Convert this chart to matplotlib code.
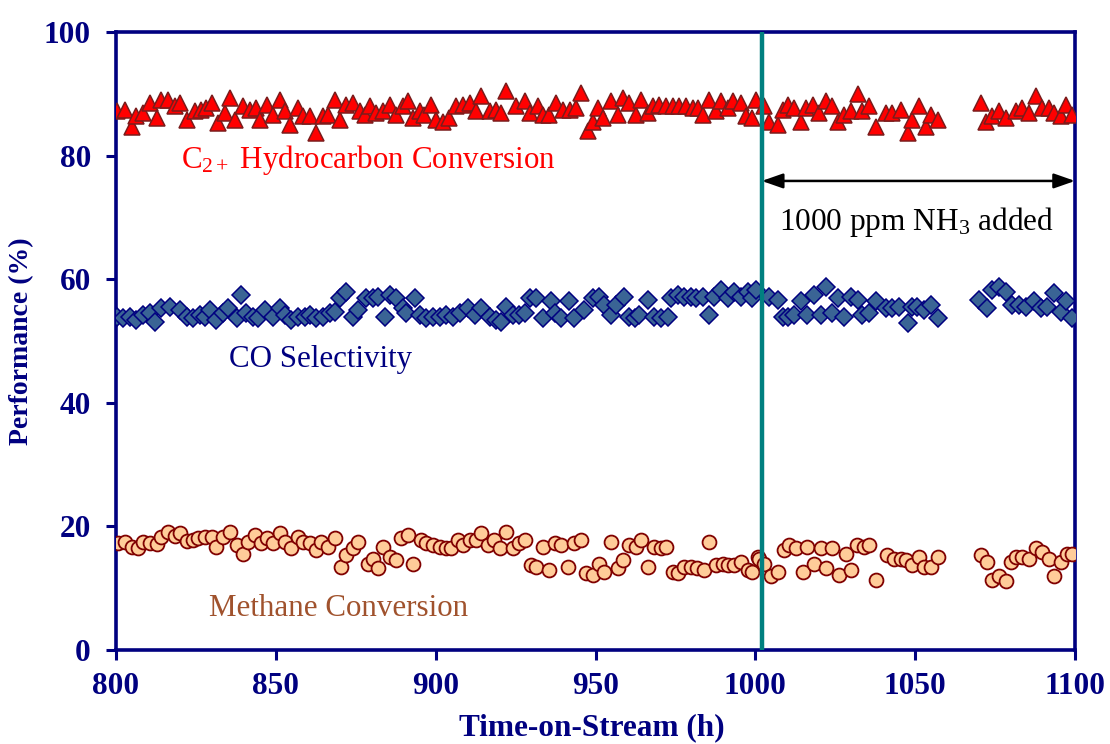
import matplotlib
matplotlib.use("Agg")
import matplotlib.pyplot as plt

# time-on-stream (h) and performance (%) for each series
c2_time = [800.2, 802.8, 804.9, 806.4, 808.5, 810.6, 812.7, 814.2, 816.3, 818.4,
           820.0, 822.1, 824.7, 826.7, 828.3, 829.9, 832.0, 834.0, 835.6, 837.2,
           839.8, 841.9, 843.9, 845.0, 847.1, 849.1, 851.2, 852.8, 854.4, 857.0,
           858.5, 860.6, 862.7, 864.8, 866.3, 868.4, 870.0, 872.1, 874.1, 876.2,
           877.8, 879.4, 881.4, 883.5, 885.6, 887.7, 889.8, 891.3, 892.9, 895.0,
           896.5, 898.6, 900.2, 902.3, 904.3, 906.4, 908.5, 910.6, 912.7, 914.2,
           916.9, 918.9, 920.5, 922.1, 925.2, 927.8, 929.4, 931.9, 933.5, 935.6,
           937.7, 939.8, 941.9, 943.9, 945.5, 947.6, 949.1, 950.7, 952.3, 954.9,
           957.0, 958.5, 960.6, 962.7, 964.2, 966.3, 967.9, 970.0, 972.1, 974.1,
           976.2, 978.3, 980.4, 982.0, 983.5, 985.6, 987.7, 989.2, 991.3, 992.9,
           995.5, 997.1, 999.1, 1000.2, 1002.8, 1004.3, 1007.0, 1008.5, 1010.1, 1012.2,
           1014.2, 1015.8, 1017.9, 1020.0, 1022.1, 1024.1, 1025.7, 1027.8, 1029.9, 1032.0,
           1033.5, 1035.6, 1037.7, 1040.8, 1042.9, 1045.5, 1047.6, 1049.1, 1051.2, 1053.3,
           1054.9, 1057.0, 1070.5, 1072.1, 1074.1, 1076.2, 1078.3, 1081.4, 1083.5, 1085.6,
           1087.7, 1089.8, 1091.9, 1093.4, 1095.5, 1097.1, 1099.1]
c2_conv = [87.2, 87.4, 84.7, 86.4, 86.9, 88.5, 86.1, 89.0, 89.0, 88.0,
           88.5, 85.8, 87.2, 87.4, 87.7, 88.5, 85.3, 86.9, 89.3, 85.8,
           88.0, 87.4, 87.7, 85.8, 88.2, 86.6, 89.0, 87.2, 85.0, 87.7,
           86.4, 86.4, 83.7, 86.4, 86.6, 89.0, 85.8, 88.2, 88.5, 87.2,
           86.6, 88.0, 86.9, 87.2, 88.2, 86.6, 88.0, 88.8, 86.1, 87.2,
           86.6, 88.2, 85.8, 85.5, 86.1, 88.0, 88.2, 88.5, 87.2, 89.6,
           87.2, 87.4, 86.9, 90.4, 88.0, 88.8, 86.9, 88.0, 86.6, 86.6,
           88.5, 87.4, 87.4, 87.7, 90.1, 83.9, 85.5, 87.7, 86.1, 88.8,
           86.6, 89.3, 88.5, 86.6, 89.0, 86.9, 88.0, 88.2, 88.0, 88.0,
           88.0, 88.0, 87.7, 87.7, 86.6, 89.0, 87.2, 88.8, 87.7, 88.8,
           88.5, 86.4, 86.1, 89.0, 88.0, 85.5, 85.0, 87.4, 88.2, 87.7,
           85.5, 87.7, 88.2, 86.9, 88.8, 88.0, 85.5, 86.6, 87.2, 89.9,
           87.2, 88.0, 84.7, 86.9, 86.9, 87.4, 83.7, 85.8, 88.0, 84.7,
           86.6, 85.8, 88.5, 85.5, 86.4, 87.2, 86.1, 87.2, 87.7, 86.9,
           89.6, 87.7, 87.7, 86.9, 86.4, 88.2, 86.6]

co_time = [800.2, 802.3, 804.3, 806.4, 808.5, 810.6, 812.2, 814.2, 816.9, 820.0,
           822.1, 824.1, 826.2, 827.8, 829.4, 831.4, 833.5, 835.1, 837.7, 839.2,
           840.8, 842.9, 844.5, 846.5, 849.1, 851.2, 852.8, 854.9, 857.0, 859.0,
           860.6, 862.7, 864.8, 866.9, 868.4, 870.0, 872.1, 874.1, 875.7, 878.3,
           880.4, 882.0, 884.0, 885.6, 887.7, 889.8, 890.8, 893.4, 895.0, 897.1,
           899.1, 901.2, 903.3, 905.4, 907.5, 910.1, 912.2, 914.2, 916.9, 918.9,
           920.5, 922.1, 924.1, 926.2, 927.8, 929.4, 931.4, 933.5, 936.1, 937.2,
           939.2, 941.8, 943.4, 946.5, 949.1, 951.2, 952.8, 954.9, 956.4, 959.0,
           960.6, 962.2, 963.7, 966.3, 968.4, 970.5, 972.6, 973.6, 975.7, 977.8,
           979.9, 981.4, 983.5, 985.6, 987.2, 989.2, 991.3, 993.4, 995.5, 997.6,
           999.1, 1000.2, 1004.3, 1007.0, 1008.5, 1010.1, 1012.2, 1014.2, 1016.3, 1018.4,
           1020.5, 1022.1, 1024.1, 1025.7, 1027.8, 1029.9, 1032.0, 1033.5, 1035.6, 1037.7,
           1040.8, 1042.9, 1045.0, 1047.6, 1049.1, 1050.7, 1052.8, 1054.9, 1057.0, 1070.0,
           1072.6, 1074.1, 1076.2, 1078.3, 1080.4, 1082.5, 1084.6, 1087.2, 1089.2, 1091.3,
           1093.4, 1095.5, 1097.1, 1099.1]
co_sel = [53.9, 53.7, 53.9, 53.4, 54.2, 54.5, 53.1, 55.3, 55.5, 55.0,
          53.9, 53.7, 54.2, 53.9, 55.0, 53.4, 54.5, 55.3, 53.7, 57.4,
          54.5, 53.9, 53.7, 55.0, 53.9, 55.3, 54.2, 53.4, 53.9, 53.9,
          54.2, 53.7, 53.9, 54.5, 54.7, 56.9, 58.0, 53.9, 55.0, 56.9,
          56.9, 57.2, 53.9, 57.4, 56.9, 55.3, 54.5, 56.9, 54.2, 53.7,
          53.9, 53.9, 54.2, 53.9, 54.5, 55.3, 54.2, 55.3, 53.9, 53.4,
          53.1, 55.5, 54.2, 54.2, 54.5, 56.9, 56.9, 53.7, 56.4, 54.5,
          53.7, 56.4, 53.7, 55.0, 56.9, 57.2, 55.8, 54.2, 55.8, 57.2,
          53.9, 53.7, 54.2, 56.6, 53.9, 53.7, 53.9, 56.9, 57.4, 57.2,
          57.2, 56.9, 57.2, 54.2, 57.2, 58.3, 56.9, 58.0, 57.2, 58.0,
          56.9, 58.3, 57.2, 56.6, 53.9, 53.9, 54.2, 56.4, 54.2, 57.4,
          54.2, 58.8, 54.5, 56.9, 53.9, 57.2, 56.6, 54.2, 54.5, 56.4,
          55.3, 55.3, 55.5, 52.9, 55.5, 55.5, 55.0, 55.8, 53.7, 56.6,
          55.3, 58.3, 58.8, 58.0, 55.8, 55.8, 55.5, 56.4, 55.3, 55.5,
          57.7, 54.7, 56.4, 53.7]

ch4_time = [800.7, 802.8, 804.9, 807.0, 808.5, 810.6, 812.7, 814.2, 816.3, 818.4,
            820.0, 822.1, 824.1, 825.7, 827.8, 829.9, 831.4, 833.5, 835.6, 837.7,
            839.8, 841.3, 843.4, 845.5, 847.1, 849.1, 851.2, 852.8, 854.9, 857.0,
            858.5, 860.6, 862.7, 864.2, 866.3, 868.4, 870.5, 872.1, 874.1, 875.7,
            878.8, 880.4, 882.0, 883.5, 885.6, 887.7, 889.2, 891.3, 892.9, 895.5,
            897.1, 899.1, 901.2, 903.3, 904.9, 906.9, 908.5, 910.6, 912.7, 914.2,
            916.3, 918.4, 920.0, 922.1, 924.1, 926.2, 927.8, 929.9, 931.4, 933.5,
            935.6, 937.2, 939.2, 941.3, 943.4, 945.5, 947.1, 949.1, 951.2, 952.8,
            954.9, 957.0, 958.5, 960.6, 962.7, 964.2, 966.3, 968.4, 970.5, 972.1,
            974.1, 975.7, 977.8, 979.9, 981.9, 984.0, 985.6, 987.7, 989.8, 991.3,
            993.4, 995.5, 997.6, 999.1, 1000.7, 1001.2, 1002.8, 1004.9, 1007.0, 1009.0,
            1010.6, 1012.7, 1014.8, 1016.3, 1018.4, 1020.5, 1022.1, 1024.1, 1026.2, 1028.3,
            1029.9, 1031.9, 1034.0, 1035.6, 1037.7, 1041.3, 1043.4, 1045.5, 1047.1, 1049.1,
            1051.2, 1052.8, 1054.9, 1057.0, 1070.5, 1072.6, 1074.1, 1076.2, 1078.3, 1079.9,
            1081.4, 1083.5, 1085.6, 1087.7, 1089.8, 1091.9, 1093.4, 1095.5, 1097.6, 1099.1]
ch4_conv = [17.3, 17.5, 16.7, 16.5, 17.5, 17.3, 17.2, 18.3, 19.1, 18.4,
            18.9, 17.7, 17.8, 18.1, 18.3, 18.3, 16.7, 18.3, 19.1, 17.0,
            15.6, 17.5, 18.6, 17.3, 18.1, 17.3, 18.9, 17.5, 16.5, 18.3,
            17.5, 17.3, 16.2, 17.5, 16.7, 18.1, 13.5, 15.4, 16.5, 17.5,
            14.0, 14.8, 13.2, 16.7, 15.1, 14.6, 18.1, 18.6, 14.0, 17.8,
            17.3, 17.0, 16.7, 16.5, 16.5, 17.8, 17.0, 17.8, 17.8, 18.9,
            17.0, 17.8, 16.5, 19.1, 16.5, 17.3, 17.8, 13.8, 13.5, 16.7,
            12.9, 17.3, 17.0, 13.5, 17.3, 17.8, 12.4, 12.1, 14.0, 12.7,
            17.5, 13.2, 14.6, 17.0, 16.7, 17.8, 13.5, 16.7, 16.5, 16.7,
            12.7, 12.4, 13.5, 13.5, 13.2, 12.9, 17.5, 13.8, 14.0, 13.8,
            13.8, 14.3, 12.9, 12.7, 15.1, 14.8, 14.0, 11.9, 12.7, 16.2,
            17.0, 16.5, 12.7, 16.7, 14.0, 16.5, 13.2, 16.5, 12.1, 15.6,
            12.9, 17.0, 16.7, 17.0, 11.3, 15.4, 14.8, 14.8, 14.6, 13.8,
            15.1, 13.5, 13.5, 15.1, 15.4, 14.3, 11.3, 11.9, 11.1, 14.3,
            15.1, 15.1, 14.8, 16.5, 15.9, 14.8, 11.9, 14.3, 15.6, 15.6]

nh3_start = 1002
x_ticks = [800, 850, 900, 950, 1000, 1050, 1100]
y_ticks = [0, 20, 40, 60, 80, 100]

navy = "#000080"
serif = "Liberation Serif"
plt.rcParams["font.family"] = serif
plt.rcParams["mathtext.fontset"] = "custom"
plt.rcParams["mathtext.rm"] = serif
plt.rcParams["mathtext.it"] = serif + ":italic"
plt.rcParams["mathtext.bf"] = serif + ":bold"

fig = plt.figure(figsize=(11.1, 7.44), dpi=100)
ax = fig.add_axes([0.1045, 0.1263, 0.864, 0.8307])

ax.plot(c2_time, c2_conv, ls="none", marker="^", ms=12, mfc="#FF0000",
        mec="#7A1C1C", mew=1.1, zorder=3)
ax.plot(co_time, co_sel, ls="none", marker="D", ms=9, mfc="#3A6495",
        mec=navy, mew=1.1, zorder=3)
ax.plot(ch4_time, ch4_conv, ls="none", marker="o", ms=10, mfc="#FFCC99",
        mec="#800000", mew=1.3, zorder=3)

# start of ammonia dosing
ax.axvline(nh3_start, color="#008080", lw=3.2, zorder=4)
ax.annotate("", xy=(1100, 75.9), xytext=(nh3_start, 75.9),
            arrowprops=dict(arrowstyle="<|-|>,head_length=0.8,head_width=0.28",
                            color="black", lw=1.8, mutation_scale=16,
                            shrinkA=0, shrinkB=0))
ax.text(1050.5, 69.3, r"1000 ppm NH$_3$ added", ha="center", va="center",
        fontsize=22.5, color="black")

ax.text(820.2, 79.3, r"C$_{2+}$ Hydrocarbon Conversion", ha="left", va="center",
        fontsize=22.3, color="#FF0000")
ax.text(835.5, 47.0, "CO Selectivity", ha="left", va="center",
        fontsize=22.3, color=navy)
ax.text(829.0, 6.8, "Methane Conversion", ha="left", va="center",
        fontsize=22.3, color="#A0522D")

ax.set_xlim(800, 1100)
ax.set_ylim(0, 100)
ax.set_xticks(x_ticks)
ax.set_yticks(y_ticks)
for spine in ax.spines.values():
    spine.set_color(navy)
    spine.set_linewidth(2.6)
ax.tick_params(direction="out", length=7, width=2.2, color=navy,
               labelcolor=navy, labelsize=22.5)
ax.tick_params(axis="x", pad=9)
ax.tick_params(axis="y", pad=11)
for lab in ax.get_xticklabels() + ax.get_yticklabels():
    lab.set_fontweight("bold")

ax.set_ylabel("Performance (%)", fontsize=20, fontweight="bold", color=navy)
ax.yaxis.set_label_coords(-0.085, 0.5)
# axis title sits at the very bottom edge of the figure
fig.text(0.533, 0.002, "Time-on-Stream (h)", ha="center", va="bottom",
         fontsize=22.5, fontweight="bold", color=navy)

fig.savefig("out.png", dpi=100)
